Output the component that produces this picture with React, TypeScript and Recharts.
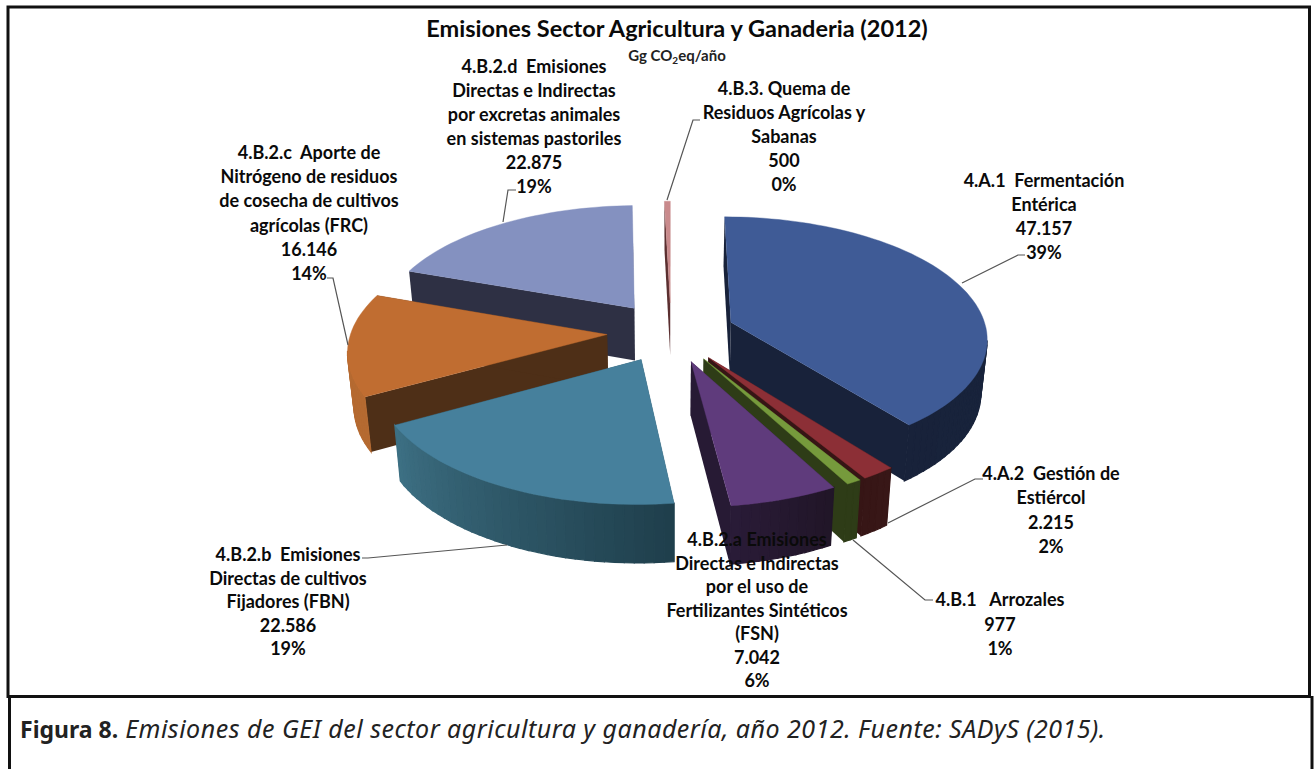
import React from 'react';
import { PieChart, Pie } from 'recharts';

const CODES = ['4.A.1', '4.A.2', '4.B.1', '4.B.2.a', '4.B.2.b', '4.B.2.c', '4.B.2.d', '4.B.3'];
const VALUES = [47157, 2215, 977, 7042, 22586, 16146, 22875, 500];
const LABEL_LINES = [
	['4.A.1  Fermentación', 'Entérica'],
	['4.A.2  Gestión de', 'Estiércol'],
	['4.B.1   Arrozales'],
	['4.B.2.a Emisiones', 'Directas e Indirectas', 'por el uso de', 'Fertilizantes Sintéticos', '(FSN)'],
	['4.B.2.b  Emisiones', 'Directas de cultivos', 'Fijadores (FBN)'],
	['4.B.2.c  Aporte de', 'Nitrógeno de residuos', 'de cosecha de cultivos', 'agrícolas (FRC)'],
	['4.B.2.d  Emisiones', 'Directas e Indirectas', 'por excretas animales', 'en sistemas pastoriles'],
	['4.B.3. Quema de', 'Residuos Agrícolas y', 'Sabanas'],
];

// slice colours, same order as CODES
const TOP_COLORS = ['#3f5b96', '#8c2f36', '#769a3c', '#5f3b7c', '#46809c', '#c06d31', '#8491c0', '#c98a8c'];
const SIDE_COLORS = ['#18223a', '#361515', '#2e3c17', '#271a34', '#1f3f4c', '#4e2f17', '#2e3044', '#5b2f30'];
const WALL_FROM = ['#1a2840', '#381717', '#2e3c17', '#211628', '#1f3f4c', '#b56a31', '#2e3044', '#5b2f30'];
const WALL_TO = ['#18223a', '#361515', '#2e3c17', '#2a1b38', '#3e7185', '#b56a31', '#2e3044', '#5b2f30'];

// label placement: centre x, first line y, line height, leader line
const LABEL_X = [1044, 1051, 1000, 757, 288, 309, 534, 784];
const LABEL_Y = [187, 480, 606, 546, 561, 159, 73, 95];
const LABEL_STEP = [24, 24.4, 24.5, 23.5, 23.6, 24.2, 24, 24];
const LEADERS = [
	'962,283 1018,255 1025,255',
	'888,523 975,479 983,479',
	'853,540 925,600 933,600',
	'',
	'507,545 368,558 362,558',
	'348,345 333,278 327,278',
	'503,222 508,190 516,190',
	'667,200 693,120 700,120',
];

const rows = CODES.map((code, id) => ({ id, name: code, value: VALUES[id] }));
const rowsReversed = [...rows].reverse();

const WIDTH = 1316;
const HEIGHT = 769;
const CX = 671;
const CY = 332;
const RADIUS = 256;
const SQUASH = 0.47;
const PERSPECTIVE = 0.12;
const EXPLODE = 0.25;
const DEPTH = 53;
const TEXT_FONT = 'Lato, sans-serif';

const rad = (deg: number) => (deg * Math.PI) / 180;

function mix(a: string, b: string, t: number) {
	const ch = (s: string, i: number) => parseInt(s.slice(1 + i * 2, 3 + i * 2), 16);
	const out = [0, 1, 2].map((i) => Math.round(ch(a, i) + (ch(b, i) - ch(a, i)) * t));
	return `rgb(${out.join(',')})`;
}

// disc coordinates to the screen, nearer points get bigger
function project(cx: number, cy: number, r: number, u: number, v: number) {
	const w = 1 / (1 - PERSPECTIVE * v);
	return [cx + r * u * w, cy + r * SQUASH * v * w, w];
}

function lower(cx: number, p: number[]) {
	return [cx + (p[0] - cx) * 0.98, p[1] + DEPTH * (1 + (p[2] - 1) * 0.6)];
}

const pts = (list: number[][]) => list.map((p) => `${p[0].toFixed(1)},${p[1].toFixed(1)}`).join(' ');

function Slice3D(props: any, layer: number[]) {
	const id = props.payload?.id ?? props.id;
	if (!layer.includes(id)) return <g />;
	const { cx, cy, outerRadius, startAngle, endAngle } = props;
	// recharts angles to clockwise from 12 o'clock
	const a0 = Math.min(90 - startAngle, 90 - endAngle);
	const a1 = Math.max(90 - startAngle, 90 - endAngle);
	const mid = (a0 + a1) / 2;
	const ex = EXPLODE * Math.sin(rad(mid));
	const ey = -EXPLODE * Math.cos(rad(mid));
	const at = (a: number) => project(cx, cy, outerRadius, ex + Math.sin(rad(a)), ey - Math.cos(rad(a)));
	const apex = project(cx, cy, outerRadius, ex, ey);
	const steps = Math.max(2, Math.ceil((a1 - a0) / 2));
	const arc: number[][] = [];
	for (let i = 0; i <= steps; i++) arc.push(at(a0 + ((a1 - a0) * i) / steps));
	const last = arc[arc.length - 1];
	const side = SIDE_COLORS[id];

	const walls = [];
	for (let i = 0; i < steps; i++) {
		const p = arc[i];
		const q = arc[i + 1];
		if (q[0] >= p[0]) continue;
		const c = mix(WALL_FROM[id], WALL_TO[id], i / steps);
		walls.push(
			<polygon key={i} points={pts([p, q, lower(cx, q), lower(cx, p)])} fill={c} stroke={c} strokeWidth={1.2} />
		);
	}

	return (
		<g>
			<polygon points={pts([apex, arc[0], lower(cx, arc[0]), lower(cx, apex)])} fill={side} />
			<polygon points={pts([apex, last, lower(cx, last), lower(cx, apex)])} fill={side} />
			{walls}
			<polygon points={pts([apex, ...arc])} fill={TOP_COLORS[id]} stroke={TOP_COLORS[id]} strokeWidth={0.4} />
		</g>
	);
}

function SliceLabel(props: any) {
	const id = props.payload?.id ?? props.id;
	const lines = [
		...LABEL_LINES[id],
		VALUES[id].toLocaleString('es-AR'),
		`${Math.round(props.percent * 100)}%`,
	];
	return (
		<g>
			{LEADERS[id] && <polyline points={LEADERS[id]} fill="none" stroke="#555" strokeWidth={1.2} />}
			<text
				textAnchor="middle"
				fontFamily={TEXT_FONT}
				fontWeight={700}
				fontSize={18}
				fill="#0a0a0a"
				style={{ whiteSpace: 'pre' }}
			>
				{lines.map((line, i) => (
					<tspan key={i} x={LABEL_X[id]} y={LABEL_Y[id] + i * LABEL_STEP[id]}>
						{line}
					</tspan>
				))}
			</text>
		</g>
	);
}

const LEFT_LAYER = [4, 5, 6, 7];
const RIGHT_LAYER = [0, 1, 2, 3];

export default function App() {
	return (
		<div style={{ position: 'absolute', left: 0, top: 0, width: WIDTH, height: HEIGHT, background: '#fff' }}>
			<PieChart width={WIDTH} height={HEIGHT} margin={{ top: 0, right: 0, bottom: 0, left: 0 }}>
				{/* back-left slices first, counter-clockwise so nearer ones paint on top */}
				<Pie
					data={rowsReversed}
					dataKey="value"
					cx={CX}
					cy={CY}
					outerRadius={RADIUS}
					startAngle={90}
					endAngle={450}
					stroke="none"
					labelLine={false}
					label={false}
					isAnimationActive={false}
					shape={(p: any) => Slice3D(p, LEFT_LAYER)}
				/>
				<Pie
					data={rows}
					dataKey="value"
					cx={CX}
					cy={CY}
					outerRadius={RADIUS}
					startAngle={90}
					endAngle={-270}
					stroke="none"
					labelLine={false}
					label={SliceLabel}
					isAnimationActive={false}
					shape={(p: any) => Slice3D(p, RIGHT_LAYER)}
				/>
				<text x={677} y={37} textAnchor="middle" fontFamily={TEXT_FONT} fontWeight={700} fontSize={23.5} fill="#0a0a0a">
					Emisiones Sector Agricultura y Ganaderia (2012)
				</text>
				<text x={677} y={61} textAnchor="middle" fontFamily={TEXT_FONT} fontWeight={700} fontSize={15} fill="#222">
					Gg CO
					<tspan fontSize={10} dy={3}>
						2
					</tspan>
					<tspan dy={-3}>eq/año</tspan>
				</text>
				{/* frames */}
				<rect x={8} y={7} width={1301.5} height={689.5} fill="none" stroke="#111" strokeWidth={3} />
				<path d="M9.5 696V769 M1312 696V769" fill="none" stroke="#111" strokeWidth={3} />
				<text x={20} y={738} fontFamily="'Noto Sans', sans-serif" fontSize={25} fill="#222">
					<tspan fontWeight={700} fontSize={23}>Figura 8.</tspan>
					<tspan fontStyle="italic" letterSpacing={0.5}> Emisiones de GEI del sector agricultura y ganadería, año 2012. Fuente: SADyS (2015).</tspan>
				</text>
			</PieChart>
		</div>
	);
}
